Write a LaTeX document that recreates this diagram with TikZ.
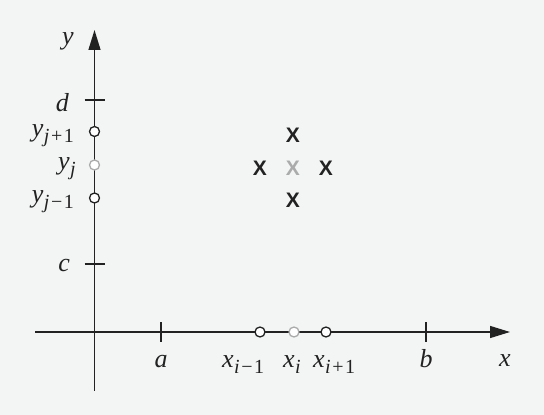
\documentclass[tikz,border=0pt]{standalone}
\usepackage{fontspec}
\newfontfamily\markfont{Liberation Sans}
\newfontfamily\labfont{Liberation Serif}
\usetikzlibrary{arrows.meta}
\definecolor{bg}{HTML}{F3F4F4}
\definecolor{ink}{HTML}{222222}
\definecolor{pale}{HTML}{ABABAB}
\newcommand\sublab[2]{#1\kern0.5pt\raisebox{-6pt}{\fontsize{20}{22}\selectfont #2}}
\newcommand\subop[1]{\kern1.5pt\upshape#1\kern1.5pt}

\begin{document}
\begin{tikzpicture}[x=1pt,y=1pt,
    axis/.style={ink,line width=1.3pt},
    tickmark/.style={ink,line width=1.3pt},
    gridpt/.style={circle,draw=ink,fill=white,line width=1.3pt,inner sep=0pt,minimum size=10pt},
    midpt/.style={gridpt,draw=pale},
    lbl/.style={font=\labfont\itshape\fontsize{26}{29}\selectfont,inner sep=0pt,text=ink},
    cross/.style={font=\markfont\bfseries\fontsize{21}{25}\selectfont,inner sep=0pt,text=ink}]
    \fill[bg] (0,0) rectangle (544,415);
    \useasboundingbox (0,0) rectangle (544,415);
    % axes
    \coordinate (xl) at (35,83);
    \coordinate (xr) at (510,83);
    \coordinate (yb) at (94.5,24);
    \coordinate (yt) at (94.5,385);
    \draw[axis,-{Triangle[length=20pt,width=12pt]}] (xl) -- (xr);
    \draw[axis,-{Triangle[length=20pt,width=12pt]}] (yb) -- (yt);
    \node[lbl,anchor=base] (xlab) at (505,48) {x};
    \node[lbl,anchor=base] (ylab) at (68,370) {y};
    % ticks
    \coordinate (ta) at (161,83);
    \coordinate (tb) at (426,83);
    \coordinate (tc) at (94.5,151);
    \coordinate (td) at (94.5,315);
    \draw[tickmark] ([yshift=-10pt]ta) -- ([yshift=10pt]ta);
    \draw[tickmark] ([yshift=-10pt]tb) -- ([yshift=10pt]tb);
    \draw[tickmark] ([xshift=-10pt]tc) -- ([xshift=10pt]tc);
    \draw[tickmark] ([xshift=-10pt]td) -- ([xshift=10pt]td);
    \node[lbl,anchor=base] (alab) at (161,47) {a};
    \node[lbl,anchor=base] (blab) at (426,47) {b};
    \node[lbl,anchor=base east] (clab) at (70,143) {c};
    \node[lbl,anchor=base east] (dlab) at (69,303) {d};
    % grid points on the axes
    \node[gridpt] (xim) at (260,83) {};
    \node[midpt] (xi) at (294,83) {};
    \node[gridpt] (xip) at (326,83) {};
    \node[gridpt] (yjp) at (94.5,283.5) {};
    \node[midpt] (yj) at (94.5,250) {};
    \node[gridpt] (yjm) at (94.5,217) {};
    \node[lbl,anchor=base west] (ximlab) at (222,47) {\sublab{x}{i\subop{−}1}};
    \node[lbl,anchor=base west] (xilab) at (283,47) {\sublab{x}{i}};
    \node[lbl,anchor=base west] (xiplab) at (313,47) {\sublab{x}{i\subop{+}1}};
    \node[lbl,anchor=base east] (yjplab) at (74,278.5) {\sublab{y}{j\subop{+}1}};
    \node[lbl,anchor=base east] (yjlab) at (76,245) {\sublab{y}{j}};
    \node[lbl,anchor=base east] (yjmlab) at (74,212) {\sublab{y}{j\subop{−}1}};
    % stencil
    \node[cross] (north) at (293,280) {X};
    \node[cross] (west) at (260,247) {X};
    \node[cross,text=pale] (centre) at (293,247) {X};
    \node[cross] (east) at (326,247) {X};
    \node[cross] (south) at (293,215) {X};
\end{tikzpicture}
\end{document}
